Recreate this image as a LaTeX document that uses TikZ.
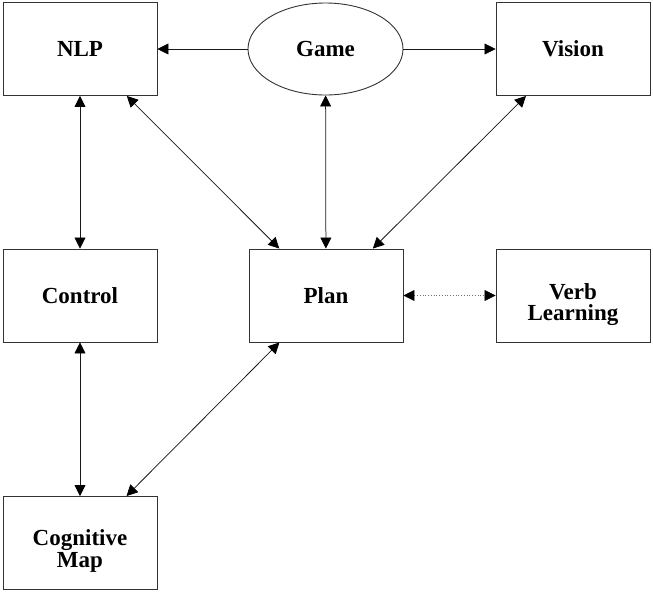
\documentclass[tikz,border=0pt]{standalone}
\usepackage{fontspec}
\setmainfont{Liberation Serif}
\usetikzlibrary{arrows.meta,shapes.geometric}
\begin{document}
\begin{tikzpicture}[x=1pt,y=-1pt,
  txt/.style={font=\fontsize{23}{21.5}\selectfont\bfseries},
  box/.style={txt,draw=black!80,line width=0.9pt,minimum width=154pt,minimum height=93pt,inner sep=0pt,align=center},
  oval/.style={txt,ellipse,draw=black!80,line width=0.9pt,minimum width=155pt,minimum height=92pt,inner sep=0pt},
  lbl/.style={txt,inner sep=0pt,align=center},
  con/.style={draw=black!90,line width=0.75pt},
  tip/.style={-{Triangle[length=11pt,width=11pt,color=black]}},
  tips/.style={{Triangle[length=11pt,width=11pt,color=black]}-{Triangle[length=11pt,width=11pt,color=black]}}
]
\useasboundingbox[fill=white] (0,0) rectangle (653,592);
\node[box] (nlp) at (80,49) {NLP};
\node[oval] (game) at (325.5,49) {Game};
\node[box] (vision) at (573,49) {Vision};
\node[box] (control) at (80,295.5) {Control};
\node[box] (plan) at (326,295.5) {Plan};
\node[box] (verb) at (573,295.5) {};
\node[lbl] (verbt) at ([yshift=-9pt]verb.center) {Verb\\Learning};
\node[box] (cog) at (80,543) {};
\node[lbl] (cogt) at ([yshift=-8pt]cog.center) {Cognitive\\Map};
\draw[con,tip] (game) -- (nlp);
\draw[con,tip] (game) -- (vision);
\draw[con,tips] (nlp) -- (control);
\draw[con,tips] (nlp) -- (plan);
\draw[con,tips] (game) -- (plan);
\draw[con,tips] (vision) -- (plan);
\draw[con,tips,dotted,draw=black!55] (plan) -- (verb);
\draw[con,tips] (control) -- (cog);
\draw[con,tips] (plan) -- (cog);
\end{tikzpicture}
\end{document}
